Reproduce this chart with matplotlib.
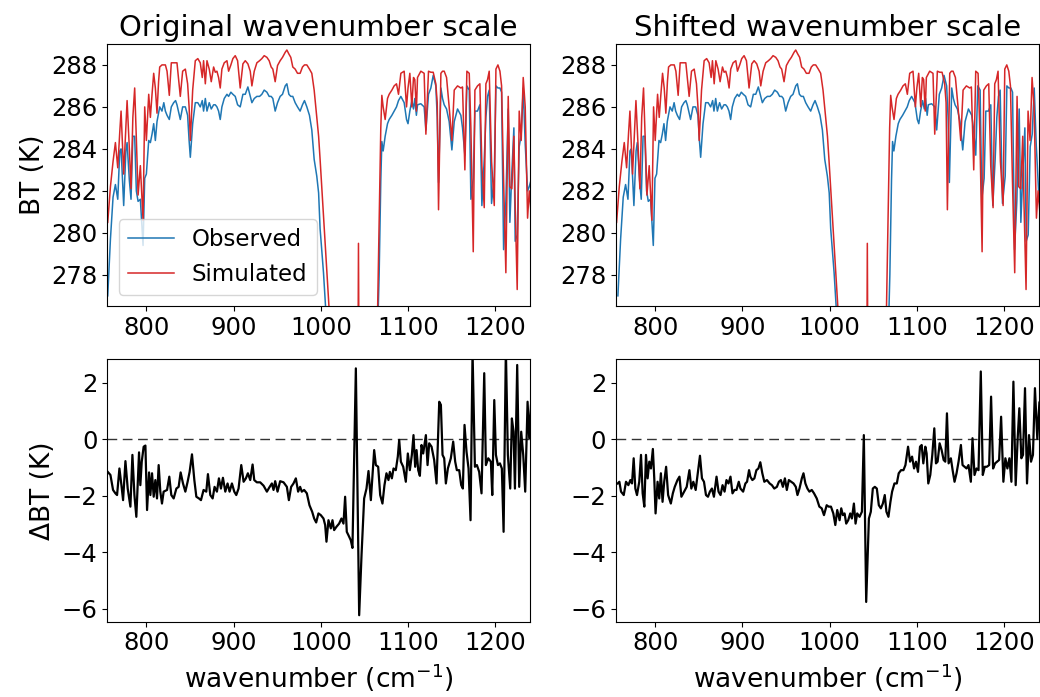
import numpy as np
import matplotlib
matplotlib.use("Agg")
import matplotlib.pyplot as plt

# brightness temperature spectra
wn_top = [
    755.7, 758.8, 761.8, 764.5, 767.2, 769.5, 771.0, 774.0, 776.5, 777.9,
    780.5, 782.4, 784.5, 786.6, 788.5, 790.5, 793.1, 796.2, 798.1, 800.0,
    802.7, 804.6, 806.5, 808.4, 810.3, 812.2, 814.0, 815.3, 817.9, 820.0,
    821.8, 823.7, 826.3, 828.6, 831.3, 833.5, 835.1, 838.9, 841.6, 844.7,
    847.3, 849.0, 850.4, 853.1, 856.1, 859.0, 861.8, 864.1, 865.6, 867.6,
    869.5, 872.1, 874.4, 877.1, 879.0, 880.9, 882.8, 884.7, 886.6, 889.3,
    892.4, 894.3, 896.9, 899.2, 901.9, 904.6, 907.6, 910.7, 913.4, 916.4,
    919.1, 921.0, 923.7, 926.7, 929.8, 932.4, 935.1, 938.2, 940.8, 943.1,
    945.0, 947.7, 950.4, 953.4, 956.1, 959.2, 961.1, 963.4, 965.6, 967.9,
    970.6, 973.3, 976.3, 979.0, 981.3, 984.0, 987.0, 989.7, 992.4, 995.4,
    997.5, 999.2, 1003.1, 1006.9, 1009.5, 1015.0, 1025.0, 1035.0, 1041.5, 1043.2,
    1045.0, 1052.0, 1060.0, 1065.0, 1066.9, 1068.8, 1070.0, 1071.5, 1073.8, 1076.5,
    1078.4, 1081.5, 1084.1, 1086.8, 1089.1, 1091.8, 1095.6, 1098.3, 1100.0, 1102.1,
    1104.4, 1106.3, 1107.8, 1109.6, 1110.9, 1114.7, 1118.5, 1120.5, 1123.5, 1126.2,
    1128.9, 1131.9, 1133.5, 1135.0, 1137.7, 1139.6, 1141.5, 1144.2, 1147.2, 1150.3,
    1153.0, 1156.8, 1160.6, 1162.5, 1165.2, 1167.5, 1170.2, 1172.1, 1174.8, 1176.7,
    1179.7, 1182.4, 1184.7, 1187.4, 1189.3, 1191.2, 1193.1, 1195.8, 1198.9, 1200.8,
    1203.1, 1205.4, 1207.3, 1209.6, 1212.2, 1214.9, 1216.8, 1219.1, 1221.4, 1222.9,
    1225.2, 1227.5, 1229.8, 1232.1, 1234.4, 1237.1, 1239.0, 1241.0]

bt_sim = [
    280.5, 282.2, 283.4, 284.3, 283.1, 284.8, 285.8, 282.8, 285.0, 286.3,
    284.0, 282.1, 285.5, 286.9, 284.5, 281.8, 283.2, 280.6, 286.0, 284.4,
    286.6, 285.5, 286.6, 287.6, 286.9, 285.7, 287.2, 287.9, 288.0, 288.0,
    288.0, 287.7, 286.55, 288.1, 288.1, 288.1, 288.1, 286.5, 287.7, 287.8,
    287.1, 286.0, 284.4, 286.8, 288.2, 288.3, 288.1, 287.4, 288.2, 287.1,
    288.2, 287.8, 287.2, 287.9, 287.65, 287.7, 287.4, 286.9, 287.8, 288.1,
    288.2, 287.7, 288.0, 288.3, 288.44, 288.2, 286.9, 288.05, 288.2, 288.05,
    287.7, 287.0, 287.7, 288.1, 288.2, 288.3, 288.44, 288.36, 288.2, 287.9,
    287.8, 287.2, 287.97, 288.2, 288.36, 288.6, 288.71, 288.52, 288.36, 287.9,
    287.8, 287.6, 287.6, 287.9, 288.0, 288.0, 287.8, 287.6, 286.8, 285.5,
    284.6, 283.5, 280.8, 278.1, 276.4, 272.0, 267.0, 263.5, 262.0, 279.5,
    262.5, 264.0, 268.0, 276.0, 280.5, 285.0, 286.55, 286.0, 285.4, 286.4,
    286.6, 286.8, 287.0, 287.1, 286.6, 287.6, 287.7, 286.0, 286.9, 287.6,
    286.0, 287.4, 287.3, 285.8, 287.4, 287.7, 287.6, 284.7, 287.7, 287.65,
    287.65, 287.1, 286.2, 281.1, 287.6, 287.7, 287.7, 287.4, 286.0, 284.4,
    286.8, 287.0, 286.9, 286.95, 283.0, 287.7, 287.6, 285.0, 279.1, 286.8,
    287.0, 287.1, 283.2, 281.2, 287.1, 287.3, 287.7, 283.4, 281.3, 287.8,
    288.0, 287.7, 287.0, 282.5, 278.1, 286.5, 282.2, 282.1, 284.6, 281.3,
    277.3, 285.8, 284.4, 287.4, 286.0, 280.7, 282.0, 281.0]

bt_obs = [
    277.0, 279.7, 281.7, 282.3, 281.6, 283.9, 284.0, 281.3, 283.9, 284.3,
    282.5, 281.6, 284.6, 284.6, 282.0, 281.5, 281.6, 279.4, 282.6, 282.8,
    284.4, 284.3, 284.7, 285.2, 284.4, 285.3, 285.7, 286.0, 285.8, 286.2,
    285.8, 285.6, 285.4, 286.0, 286.2, 286.3, 286.1, 285.4, 286.0, 286.0,
    285.6, 284.4, 283.6, 285.2, 286.2, 286.2, 286.0, 286.3, 285.8, 286.4,
    285.8, 286.2, 285.9, 286.1, 286.1, 286.0, 285.8, 285.4, 286.0, 286.4,
    286.6, 286.5, 286.7, 286.6, 286.5, 286.1, 286.0, 286.6, 286.6, 286.95,
    286.5, 286.2, 286.4, 286.5, 286.5, 286.6, 286.8, 286.7, 286.5, 286.5,
    286.4, 285.8, 286.2, 286.5, 286.6, 287.0, 287.1, 286.6, 286.5, 286.5,
    286.2, 286.0, 285.8, 286.1, 286.3, 286.0, 285.6, 284.9, 283.5, 282.7,
    281.9, 280.2, 278.1, 275.5, 273.0, 268.5, 264.0, 260.0, 262.0, 266.0,
    256.5, 262.0, 267.0, 275.0, 278.0, 282.5, 284.35, 283.9, 284.6, 285.2,
    285.4, 285.6, 285.8, 286.0, 286.3, 286.5, 286.2, 285.4, 285.2, 285.8,
    286.3, 285.9, 286.4, 285.6, 286.1, 286.15, 286.0, 284.9, 286.6, 286.9,
    287.5, 287.0, 285.5, 282.4, 286.9, 286.4, 286.1, 285.9, 285.3, 283.95,
    285.3, 285.9, 285.6, 285.0, 283.7, 287.0, 286.8, 281.6, 282.6, 285.8,
    285.8, 286.1, 281.3, 283.5, 285.5, 286.5, 286.8, 281.4, 282.7, 287.0,
    286.9, 286.9, 286.7, 279.2, 281.5, 285.9, 280.5, 282.9, 285.0, 279.6,
    279.9, 284.1, 284.7, 286.9, 284.2, 282.0, 282.2, 282.5]

# relative correction applied to the observed wavenumber scale
wn_shift = 0.002

# observed minus simulated, original scale
wn_d1 = [
    755.7, 758.8, 761.8, 764.5, 766.4, 769.1, 771.4, 773.3, 776.0, 778.6,
    781.7, 784.0, 786.3, 788.5, 791.6, 793.1, 794.7, 796.9, 798.9, 800.8,
    803.1, 804.6, 806.5, 808.4, 810.3, 812.2, 814.1, 816.0, 817.9, 819.8,
    823.7, 826.3, 828.6, 831.3, 834.4, 837.0, 839.3, 842.0, 844.7, 847.3,
    849.6, 852.3, 855.0, 857.3, 860.3, 862.6, 865.6, 868.7, 870.6, 873.3,
    876.0, 878.2, 880.9, 883.2, 885.5, 887.8, 890.5, 893.1, 895.4, 898.1,
    900.8, 903.1, 905.7, 908.8, 911.5, 914.1, 916.4, 919.1, 921.8, 923.7,
    926.7, 930.5, 934.4, 938.2, 940.8, 943.9, 945.8, 947.7, 950.4, 953.4,
    957.3, 961.1, 963.4, 966.0, 968.7, 971.4, 974.0, 976.3, 978.2, 980.9,
    984.0, 987.0, 990.1, 992.4, 994.7, 997.3, 1000.0, 1003.1, 1005.0, 1006.5,
    1008.8, 1011.5, 1013.4, 1015.3, 1018.0, 1021.0, 1023.7, 1026.0, 1027.9, 1029.8,
    1031.7, 1034.4, 1036.3, 1040.2, 1044.0, 1046.7, 1049.7, 1052.4, 1054.7, 1057.4,
    1059.3, 1061.2, 1063.1, 1065.8, 1068.1, 1070.7, 1073.0, 1075.3, 1077.6, 1079.2,
    1081.5, 1083.4, 1086.0, 1088.3, 1089.9, 1091.8, 1094.5, 1097.5, 1099.8, 1102.1,
    1104.4, 1106.3, 1108.2, 1109.8, 1111.7, 1113.6, 1115.5, 1117.4, 1120.5, 1122.4,
    1124.3, 1127.0, 1130.0, 1132.7, 1135.8, 1137.7, 1139.6, 1141.5, 1143.4, 1145.7,
    1149.1, 1151.8, 1154.1, 1156.0, 1158.7, 1161.0, 1162.9, 1164.8, 1167.1, 1169.4,
    1171.7, 1174.0, 1176.7, 1179.0, 1181.6, 1184.3, 1187.4, 1189.3, 1192.0, 1195.0,
    1196.6, 1198.9, 1200.8, 1203.1, 1205.4, 1207.6, 1209.6, 1212.2, 1214.5, 1217.2,
    1219.1, 1221.0, 1222.6, 1225.2, 1227.5, 1229.8, 1232.1, 1234.4, 1237.1, 1239.0,
    1241.0]

dbt_orig = [
    -1.15, -1.26, -1.79, -1.91, -1.97, -1.03, -1.62, -2.15, -0.77, -1.74,
    -2.38, -0.55, -1.97, -2.74, -0.46, -1.62, -0.79, -0.26, -0.22, -2.50,
    -1.17, -1.97, -1.20, -2.03, -1.44, -2.09, -0.91, -1.85, -2.27, -1.85,
    -1.79, -1.32, -1.97, -2.09, -1.74, -1.68, -1.17, -1.56, -1.85, -1.50,
    -1.15, -0.53, -1.44, -2.03, -2.09, -2.15, -1.79, -1.85, -1.23, -1.97,
    -2.09, -1.68, -1.85, -1.38, -1.74, -1.36, -1.85, -1.56, -1.85, -1.56,
    -1.85, -1.97, -1.74, -0.91, -1.50, -1.38, -1.20, -1.44, -0.89, -1.44,
    -1.52, -1.52, -1.64, -1.85, -1.71, -1.56, -1.79, -1.48, -1.85, -1.48,
    -1.52, -1.68, -2.15, -1.68, -1.56, -1.38, -1.85, -1.68, -1.85, -1.79,
    -1.91, -2.33, -2.56, -2.80, -2.94, -2.62, -2.68, -2.80, -3.03, -3.62,
    -2.86, -3.15, -2.86, -3.21, -3.09, -2.98, -2.80, -2.98, -2.03, -3.27,
    -3.39, -3.57, -3.84, 2.51, -6.22, -4.10, -2.09, -1.74, -1.12, -2.15,
    -1.26, -0.38, -0.91, -0.97, -1.97, -2.27, -1.62, -1.20, -1.44, -1.15,
    -1.38, -1.03, -1.09, -0.61, -0.02, -0.79, -0.97, -1.50, -0.50, -1.09,
    -0.55, 0.15, -0.97, -0.38, -1.09, -1.29, -0.20, -0.50, 0.15, -0.91,
    -0.14, -0.26, -0.73, -1.56, 1.33, 1.22, -0.55, -0.67, -1.56, -1.03,
    -0.67, -0.08, -0.79, -1.09, -1.09, -1.62, -1.74, 0.51, -0.44, -1.03,
    -2.86, 3.10, -0.97, -0.91, -1.15, -1.91, 2.34, -0.91, -0.67, -0.79,
    -1.97, 1.39, -0.55, -0.91, -0.85, -1.03, -3.27, 3.20, -0.55, -1.74,
    0.74, 0.27, -1.74, 2.63, -1.68, 0.27, -0.55, -1.85, 1.33, 0.04,
    1.20]

# observed minus simulated, shifted scale
wn_d2 = [
    757.0, 758.9, 760.8, 763.9, 766.5, 769.2, 771.5, 773.4, 775.3, 777.2,
    779.1, 781.7, 783.7, 785.6, 787.5, 789.4, 791.3, 793.2, 795.1, 797.3,
    798.9, 800.4, 802.7, 804.6, 806.5, 808.4, 810.3, 812.5, 814.8, 817.9,
    820.2, 822.4, 825.5, 827.8, 830.0, 833.1, 836.1, 839.2, 841.4, 843.7,
    846.4, 849.0, 851.3, 853.6, 855.9, 858.2, 860.5, 862.7, 865.0, 867.3,
    870.3, 872.6, 874.9, 877.2, 879.5, 881.7, 884.0, 886.3, 888.6, 890.9,
    893.2, 895.8, 897.7, 900.8, 903.4, 905.3, 907.6, 909.1, 911.4, 913.7,
    916.0, 918.3, 920.5, 922.8, 925.1, 928.1, 931.2, 933.8, 936.5, 939.5,
    941.8, 944.1, 946.4, 948.7, 950.9, 953.2, 955.9, 958.6, 961.2, 963.1,
    965.4, 968.1, 970.0, 972.2, 974.5, 976.8, 979.5, 982.1, 985.2, 988.2,
    990.9, 993.5, 996.6, 998.9, 1001.5, 1004.2, 1006.5, 1008.7, 1011.4, 1013.3,
    1015.2, 1017.1, 1019.0, 1021.3, 1023.6, 1025.5, 1027.8, 1029.7, 1031.6, 1034.3,
    1037.0, 1039.2, 1041.9, 1045.0, 1047.2, 1049.5, 1051.8, 1054.1, 1056.4, 1058.7,
    1061.0, 1063.2, 1065.1, 1067.4, 1069.7, 1071.6, 1074.3, 1077.0, 1079.2, 1081.9,
    1084.6, 1086.9, 1089.9, 1092.2, 1094.5, 1096.8, 1099.0, 1101.3, 1103.6, 1105.5,
    1107.4, 1109.7, 1111.2, 1113.1, 1115.4, 1117.7, 1120.0, 1121.9, 1123.8, 1126.1,
    1128.4, 1130.7, 1132.6, 1134.5, 1136.4, 1139.0, 1141.0, 1143.2, 1145.5, 1147.8,
    1150.5, 1152.4, 1154.7, 1157.0, 1159.2, 1161.9, 1163.8, 1166.1, 1168.4, 1170.7,
    1173.3, 1175.6, 1177.9, 1180.2, 1182.9, 1185.1, 1187.4, 1189.7, 1192.0, 1194.3,
    1196.6, 1199.2, 1201.5, 1203.8, 1206.1, 1208.4, 1210.7, 1213.3, 1215.6, 1217.5,
    1219.8, 1221.7, 1224.0, 1226.3, 1228.6, 1230.9, 1233.1, 1235.4, 1238.1, 1240.5]

dbt_shift = [
    -1.56, -1.50, -1.85, -1.97, -1.50, -1.62, -1.44, -1.56, -0.67, -1.74,
    -1.97, -1.50, -0.55, -1.91, -2.38, -0.55, -1.38, -0.79, -1.03, -0.34,
    -1.38, -2.62, -1.50, -2.09, -1.20, -2.21, -1.50, -0.97, -1.97, -2.27,
    -1.91, -1.68, -1.44, -1.32, -2.03, -1.85, -1.68, -1.09, -1.74, -1.50,
    -1.79, -1.15, -0.58, -1.38, -1.50, -1.97, -2.03, -1.85, -1.74, -2.03,
    -1.32, -1.85, -1.97, -1.62, -1.85, -1.44, -1.56, -1.32, -1.91, -1.79,
    -1.79, -1.50, -1.74, -1.85, -1.56, -1.50, -1.09, -1.32, -1.44, -1.38,
    -1.09, -1.03, -0.81, -1.20, -1.50, -1.44, -1.56, -1.62, -1.74, -1.68,
    -1.50, -1.44, -1.68, -1.38, -1.79, -1.44, -1.50, -1.56, -1.68, -1.97,
    -1.74, -1.38, -1.20, -1.56, -1.74, -1.85, -1.79, -1.91, -2.09, -2.38,
    -2.44, -2.68, -2.33, -2.38, -2.38, -2.62, -3.03, -2.50, -2.86, -2.44,
    -2.68, -2.62, -2.98, -2.86, -2.62, -2.80, -2.27, -2.98, -2.62, -2.74,
    -2.56, 0.15, -5.75, -2.80, -2.56, -1.74, -1.68, -1.74, -2.33, -2.44,
    -2.27, -1.97, -2.56, -2.74, -2.21, -1.85, -1.56, -1.56, -1.20, -1.09,
    -1.09, -0.91, -0.26, -0.79, -0.61, -1.03, -0.79, -1.15, -0.26, -0.20,
    -0.85, -0.26, -0.50, -1.56, -1.26, -0.55, 0.39, -0.85, -0.79, -0.14,
    -0.38, -0.73, -0.79, 0.92, -0.85, -0.67, -1.09, -1.50, -1.20, -0.79,
    -0.20, -0.91, -0.97, -1.03, -0.91, -1.50, 0.04, -1.26, -1.03, -1.09,
    2.40, -1.26, -0.97, -0.97, -0.91, 1.51, -1.03, -0.85, -0.79, -0.73,
    0.80, -1.50, -0.67, -1.03, -0.67, -1.50, 2.04, -1.62, 0.04, 1.10,
    -0.67, -0.55, 1.81, -1.56, 0.15, -0.79, -0.55, 1.81, 0.02, 1.30]

wn_top = np.array(wn_top)
bt_sim = np.array(bt_sim)
bt_obs = np.array(bt_obs)

plt.rcParams['font.size'] = 17.5

fig, axes = plt.subplots(2, 2, figsize=(10.4, 6.97), dpi=100)
fig.subplots_adjust(left=0.103, right=0.999, top=0.937, bottom=0.108,
                    wspace=0.203, hspace=0.202)

top_obs_wn = [wn_top, wn_top * (1 + wn_shift)]
titles = ["Original wavenumber scale", "Shifted wavenumber scale"]
diffs = [(wn_d1, dbt_orig), (wn_d2, dbt_shift)]

for i in range(2):
    ax = axes[0, i]
    ax.plot(top_obs_wn[i], bt_obs, color='tab:blue', lw=1.1, label='Observed')
    ax.plot(wn_top, bt_sim, color='tab:red', lw=1.1, label='Simulated')
    ax.set_xlim(755, 1240)
    ax.set_ylim(276.5, 289)
    ax.set_yticks([278, 280, 282, 284, 286, 288])
    ax.set_xticks([800, 900, 1000, 1100, 1200])
    ax.set_title(titles[i], fontsize=21)

    ax = axes[1, i]
    ax.axhline(0, color='k', lw=1.0, ls=(0, (7, 4)), alpha=0.8)
    ax.plot(diffs[i][0], diffs[i][1], color='k', lw=1.6)
    ax.set_xlim(755, 1240)
    ax.set_ylim(-6.45, 2.83)
    ax.set_yticks([-6, -4, -2, 0, 2])
    ax.set_xticks([800, 900, 1000, 1100, 1200])
    ax.set_xlabel("wavenumber (cm$^{-1}$)", fontsize=19)

axes[0, 0].set_ylabel("BT (K)", fontsize=19)
axes[1, 0].set_ylabel("ΔBT (K)", fontsize=19)
axes[0, 0].legend(loc='lower left', fontsize=16.5)

fig.savefig("out.png", dpi=100)
